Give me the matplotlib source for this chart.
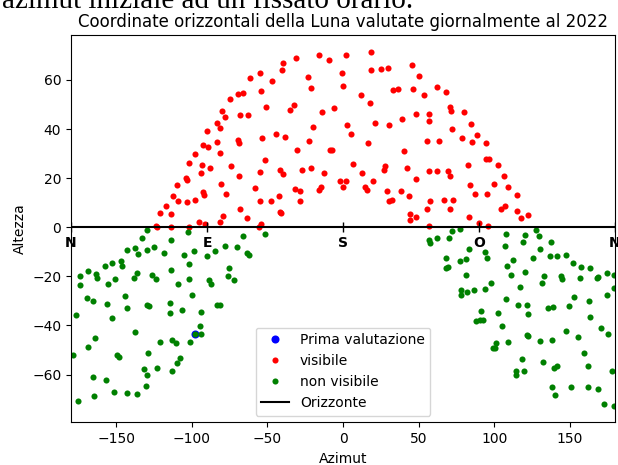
import numpy as np
from matplotlib import pyplot as plt

# Posizioni (azimut, altezza) in gradi

# Prima valutazione
az_prima = [-97.7]
alt_prima = [-43.4]

# Luna sopra l'orizzonte
az_vis = [-61.5, -74.6, -69.3, -65.9, -67.9, -63.1, -79.8, -77.9, -83.4, -81.6,
          -89.8, -92.4, -89.1, -83.4, -81.2, -69.3, -68.6, -97.7, -101.9, -93.1,
          -87.8, -93.7, -73.9, -68.6, -103.7, -103.0, -109.6, -80.5, -92.4, -91.8,
          -77.2, -112.3, -109.0, -103.0, -97.7, -116.9, -121.1, -113.6, -68.0, -79.6,
          -63.7, -95.1, -91.1, -81.2, -123.7, -122.9, -113.6, -101.9,
          18.6, -15.9, 2.0, -31.3, -9.2, -39.9, -40.6, -55.1, -46.7, -23.4,
          -21.2, -0.9, 0.0, 18.6, 25.2, 29.8, 45.9, 50.5, -54.5, 33.1,
          36.6, 46.6, 53.9, 12.0, 17.9, -51.2, -32.6, -35.3, -14.1, -5.9,
          57.2, 56.7, 48.6, 39.3, 21.4, 30.5, 2.7, 5.3, -20.1, -44.5,
          -38.6, -53.8, -22.7, 16.6, 55.8, 40.6, -30.6, -8.8, -7.3, -51.8,
          6.6, -55.1, -41.9, -39.9, -27.3, -21.2, -12.8, 12.6, 27.2, 27.8,
          42.4, 57.2, 48.3, -58.4, -2.2, 2.2, 0.0, 19.9, 14.4, 15.9,
          -32.0, -28.4, -16.1, -14.5, 29.1, 38.6, 43.9, 57.8, -55.1, -47.8,
          -42.6, -28.4, 30.7, 32.7, 55.8, -41.9, -41.2, 44.0, 44.6, 48.6,
          -54.0, -55.8, 57.1,
          62.4, 68.4, 70.8, 71.7, 80.3, 84.5, 71.9, 88.9, 78.5, 85.6,
          94.4, 63.7, 94.8, 96.8, 102.3, 82.9, 62.0, 69.2, 71.0, 106.3,
          100.1, 83.8, 109.0, 87.1, 95.5, 115.1, 67.0, 73.0, 71.0, 104.5,
          107.0, 114.9, 117.8, 122.4, 83.6, 90.2, 96.2]
alt_vis = [60.6, 52.3, 54.3, 54.7, 45.7, 45.7, 47.3, 44.9, 42.3, 40.3,
           39.1, 33.3, 32.5, 34.6, 30.1, 35.4, 34.2, 29.7, 26.0, 25.2,
           24.0, 21.9, 24.8, 20.7, 20.1, 19.3, 17.3, 17.8, 14.2, 13.3,
           13.7, 12.8, 10.5, 10.1, 11.3, 8.7, 5.8, 5.4, 7.5, 4.6,
           3.8, 2.2, 1.4, 2.2, 0.7, 0.2, 0.2, 0.3,
           71.2, 70.3, 70.3, 69.1, 68.3, 66.7, 64.2, 63.0, 59.7, 61.0,
           56.9, 63.0, 57.6, 64.2, 64.6, 65.0, 65.9, 61.8, 55.6, 56.1,
           56.5, 56.5, 53.9, 53.9, 50.6, 49.1, 49.8, 47.8, 47.0, 48.7,
           46.1, 43.3, 46.1, 44.1, 42.5, 41.6, 41.6, 38.0, 40.8, 38.0,
           36.7, 36.3, 35.1, 34.3, 35.1, 31.0, 31.4, 31.4, 31.4, 27.2,
           25.6, 22.7, 23.5, 21.5, 23.5, 24.0, 21.9, 21.9, 23.5, 24.8,
           24.0, 23.1, 19.5, 15.8, 19.0, 19.0, 16.5, 19.0, 16.2, 15.2,
           15.4, 14.6, 15.2, 16.2, 14.9, 14.6, 12.9, 10.6, 10.5, 10.9,
           12.9, 10.9, 10.9, 11.3, 7.5, 6.4, 6.0, 5.4, 3.1, 4.2,
           1.4, 0.2, 0.6,
           57.3, 55.2, 49.1, 47.2, 46.9, 42.0, 40.0, 37.6, 36.3, 34.6,
           34.3, 35.1, 27.6, 28.0, 25.2, 25.2, 23.1, 23.1, 20.7, 20.7,
           17.8, 17.4, 16.2, 13.7, 13.7, 13.0, 11.3, 11.3, 7.6, 7.5,
           8.7, 6.7, 3.8, 5.0, 4.2, 1.8, 0.7]

# Luna sotto l'orizzonte
az_nonvis = [-129.7, -102.6, -133.0, -113.6, -65.9, -143.2, -137.6, -135.7, -129.7, -125.1,
             -118.5, -105.2, -98.4, -89.8, -84.5, -77.9, -69.9, -63.3, -62.2, -101.9,
             -75.2, -75.9, -71.9, -88.5, -87.1, -101.7, -100.1, -109.2, -113.8, -126.6,
             -123.7, -136.3, -138.3, -150.9, -155.7, -146.9, -146.2, -153.1, -157.7, -169.0,
             -174.3, -174.3, -163.7, -163.0, -169.6, -165.7, -176.9, -156.4, -144.3, -142.9,
             -153.1, -129.7, -128.4, -114.5, -114.5, -106.3, -93.7, -83.2, -81.6, -137.6,
             -94.4, -97.7, -93.7, -164.3, -169.0, -178.9, -121.1, -113.2, -110.3, -101.2,
             -149.8, -148.2, -129.0, -107.9, -109.8, -131.7, -123.1, -113.2, -129.7, -165.7,
             -157.1, -130.4, -151.8, -143.2, -136.3, -165.0, -175.6,
             -51.6, 56.7, 57.8,
             62.4, 70.3, 71.9, 77.2, 108.1, 120.4, 127.7, 129.7, 107.0, 118.9,
             137.4, 130.4, 83.1, 93.7, 95.5, 68.4, 68.4, 69.5, 77.2, 81.6,
             81.2, 112.5, 108.3, 111.0, 120.4, 125.5, 137.0, 141.6, 147.6, 152.4,
             157.5, 163.4, 174.7, 179.5, 168.1, 168.7, 156.8, 144.0, 144.9, 133.0,
             131.5, 117.1, 97.7, 93.7, 86.7, 82.3, 78.3, 77.8, 107.6, 115.6,
             121.7, 122.4, 135.4, 139.0, 149.5, 152.9, 162.8, 174.7, 179.5, 163.4,
             91.1, 88.0, 90.4, 92.4, 102.3, 105.0, 101.0, 99.5, 100.8, 109.0,
             121.7, 122.4, 130.4, 138.1, 147.6, 155.5, 171.0, 175.6, 159.5, 118.2,
             132.3, 139.6, 141.4, 162.1, 114.2, 114.2, 119.8, 178.2, 138.1, 140.3,
             150.9, 162.1, 168.7, 172.7, 179.3]
alt_nonvis = [-1.1, -1.8, -4.5, -5.2, -3.5, -9.3, -8.4, -11.0, -9.3, -8.2,
              -10.6, -11.4, -9.7, -11.8, -9.8, -7.6, -8.2, -10.3, -11.4, -15.1,
              -16.7, -20.0, -21.6, -21.6, -23.0, -21.2, -27.4, -22.9, -17.6, -19.6,
              -21.2, -18.8, -20.8, -21.2, -22.9, -13.9, -15.9, -14.7, -15.9, -18.0,
              -20.0, -23.7, -19.2, -20.8, -28.6, -29.9, -35.9, -31.2, -27.8, -32.7,
              -36.9, -31.8, -32.2, -30.8, -34.8, -33.6, -34.4, -31.8, -31.6, -42.6,
              -40.1, -43.4, -43.4, -45.0, -48.7, -52.0, -46.7, -45.9, -47.1, -46.7,
              -52.0, -52.8, -51.2, -53.2, -55.2, -57.8, -57.4, -58.5, -60.3, -61.1,
              -62.3, -64.8, -67.2, -67.6, -68.0, -68.8, -70.9,
              -2.7, -5.2, -6.3,
              -4.5, -4.5, -1.5, -0.8, -2.9, -3.3, -1.2, -3.7, -7.8, -6.0,
              -6.0, -8.8, -8.8, -10.1, -12.7, -12.7, -16.6, -16.2, -13.9, -12.9,
              -19.6, -13.3, -15.9, -19.6, -18.4, -12.5, -11.8, -11.8, -11.4, -14.7,
              -16.3, -16.7, -18.8, -19.6, -20.8, -20.4, -20.8, -20.0, -21.1, -20.0,
              -22.5, -24.2, -22.6, -25.0, -25.4, -26.3, -25.7, -27.4, -29.1, -31.6,
              -31.6, -35.2, -32.8, -32.4, -32.0, -28.2, -30.2, -27.5, -24.9, -36.5,
              -34.0, -38.0, -37.8, -37.7, -34.8, -40.1, -47.1, -49.1, -49.1, -46.7,
              -43.7, -44.1, -46.3, -45.9, -42.2, -44.6, -41.0, -43.4, -51.2, -53.7,
              -54.8, -57.4, -56.6, -56.6, -58.6, -60.0, -58.6, -58.6, -65.2, -68.4,
              -65.2, -65.2, -66.0, -71.8, -72.7]

# Punti cardinali sull'orizzonte
card_az = [-180, -90, 0, 90, 180]
card_lab = ['N', 'E', 'S', 'O', 'N']

fig = plt.figure(figsize=(6.18, 4.65), dpi=100)

# riga di testo del documento, tagliata in alto
fig.text(0.004, 0.983, 'azimut iniziale ad un fissato orario.',
         family='Liberation Serif', fontsize=21, va='baseline')

ax = fig.add_axes([0.1149, 0.0914, 0.8803, 0.8323])

ax.plot(az_prima, alt_prima, 'o', color='blue', ms=5.8, mew=0, label='Prima valutazione')
ax.plot(az_vis, alt_vis, 'o', color='red', ms=4.4, mew=0, label='visibile')
ax.plot(az_nonvis, alt_nonvis, 'o', color='green', ms=4.4, mew=0, label='non visibile')
ax.plot([-180, 180], [0, 0], 'k-', lw=1.5, label='Orizzonte')
ax.plot(card_az, np.zeros(len(card_az)), 'k|', ms=6.5, mew=1)

for a, lab in zip(card_az, card_lab):
    ax.text(a, -6.5, lab, fontsize=10, fontweight='bold', ha='center', va='center')

ax.set_xlim(-180, 180)
ax.set_ylim(-79.5, 78.1)
ax.tick_params(labelsize=10)
ax.set_xlabel('Azimut', fontsize=10)
ax.set_ylabel('Altezza', fontsize=10)
ax.set_title('Coordinate orizzontali della Luna valutate giornalmente al 2022', fontsize=12)
ax.legend(loc='lower center', fontsize=10)

plt.savefig('out.png', dpi=100)
